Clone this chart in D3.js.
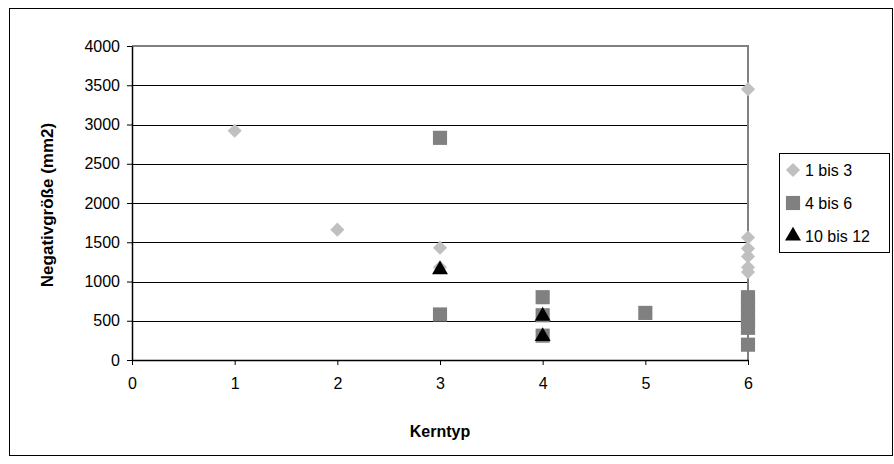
<!DOCTYPE html>
<html><head><meta charset="utf-8">
<script src="https://cdn.jsdelivr.net/npm/d3@7/dist/d3.min.js"></script>
<style>body{margin:0;background:#fff}svg{display:block}text{font-family:"Liberation Sans",Arial,sans-serif}</style>
</head><body><svg id="c" width="894" height="464"></svg>
<script>
const seriesNames = ["1 bis 3", "4 bis 6", "10 bis 12"];
const s1x = [1, 2, 3, 3, 6, 6, 6, 6, 6, 6];
const s1y = [2920, 1660, 1430, 1180, 3450, 1560, 1420, 1320, 1180, 1120];
const s2x = [3, 3, 4, 4, 4, 5, 6, 6, 6, 6, 6, 6];
const s2y = [2830, 580, 800, 570, 310, 600, 800, 700, 600, 500, 410, 195];
const s3x = [3, 4, 4];
const s3y = [1150, 560, 300];
const xTicks = [0, 1, 2, 3, 4, 5, 6];
const yTicks = [0, 500, 1000, 1500, 2000, 2500, 3000, 3500, 4000];

const svg = d3.select("#c");
const L = 132, R = 748, T = 46, B = 360;
const x = d3.scaleLinear().domain([0, 6]).range([L, R]);
const y = d3.scaleLinear().domain([0, 4000]).range([B, T]);

svg.append("rect").attr("x", 9.5).attr("y", 8.5).attr("width", 883).attr("height", 447)
  .attr("fill", "#fff").attr("stroke", "#000").attr("stroke-width", 1);

svg.append("g").selectAll("line").data(yTicks.filter(d => d > 0 && d < 4000)).join("line")
  .attr("x1", L).attr("x2", R).attr("y1", d => Math.round(y(d)) + 0.5).attr("y2", d => Math.round(y(d)) + 0.5)
  .attr("stroke", "#000").attr("stroke-width", 1);
svg.append("path").attr("d", `M${L},${T}H${R}V${B}`).attr("fill", "none").attr("stroke", "#808080").attr("stroke-width", 2);

const ya = svg.append("g").attr("transform", `translate(${L},0)`)
  .call(d3.axisLeft(y).tickValues(yTicks).tickFormat(d3.format("d")).tickSize(5).tickSizeOuter(0).tickPadding(7));
const xa = svg.append("g").attr("transform", `translate(0,${B})`)
  .call(d3.axisBottom(x).tickValues(xTicks).tickFormat(d3.format("d")).tickSize(5).tickSizeOuter(0).tickPadding(13));
[ya, xa].forEach(a => {
  a.select(".domain").attr("stroke", "#000").attr("stroke-width", 1.5);
  a.selectAll(".tick line").attr("stroke", "#000");
  a.selectAll("text").attr("font-size", 16).attr("fill", "#000").attr("font-family", "Liberation Sans, Arial, sans-serif");
});

const sym = [d3.symbolDiamond, d3.symbolSquare, d3.symbolTriangle];
const cols = ["#c0c0c0", "#808080", "#000000"];
const sizes = [110, 200, 110];
const data = [
  s1x.map((v, i) => [v, s1y[i]]),
  s2x.map((v, i) => [v, s2y[i]]),
  s3x.map((v, i) => [v, s3y[i]])
];
function drawSym(g, k, cx, cy) {
  let sh = d3.symbol().type(sym[k]).size(sizes[k]);
  let tr = `translate(${cx},${cy})`;
  if (k === 0) { sh = d3.symbol().type(d3.symbolSquare).size(100); tr += " rotate(45)"; }
  g.append("path").attr("d", sh()).attr("transform", tr).attr("fill", cols[k]);
}
const pg = svg.append("g");
data.forEach((ser, k) => ser.forEach(d => drawSym(pg, k, x(d[0]), y(d[1]))));

svg.append("rect").attr("x", 779.5).attr("y", 153.5).attr("width", 110).attr("height", 99)
  .attr("fill", "#fff").attr("stroke", "#000");
seriesNames.forEach((n, k) => {
  const cy = 170 + k * 33;
  drawSym(svg, k, 793, cy);
  svg.append("text").attr("x", 805).attr("y", cy + 6).attr("font-size", 16).text(n);
});

svg.append("text").attr("x", 440).attr("y", 437).attr("text-anchor", "middle")
  .attr("font-size", 16).attr("font-weight", "bold").text("Kerntyp");
svg.append("text").attr("transform", "translate(53,205) rotate(-90)").attr("text-anchor", "middle")
  .attr("font-size", 17).attr("font-weight", "bold").text("Negativgröße (mm2)");
</script></body></html>
